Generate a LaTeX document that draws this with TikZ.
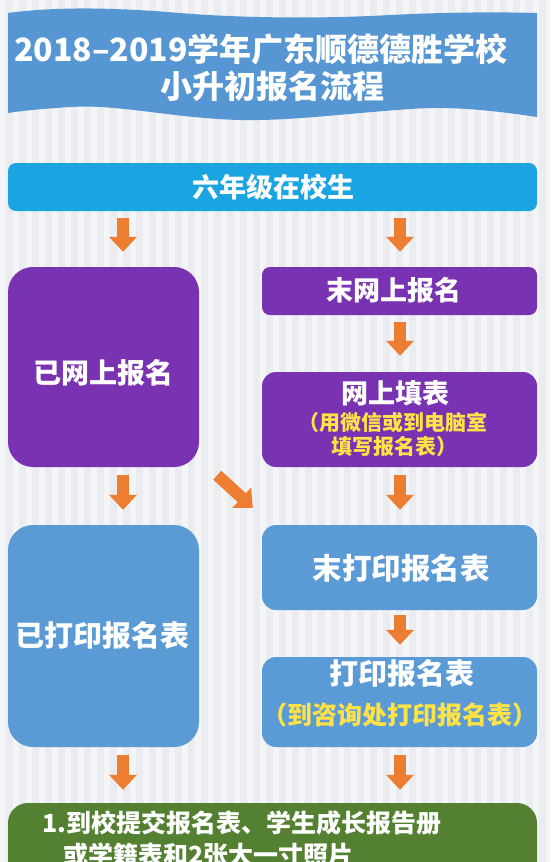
\documentclass[tikz,border=0pt]{standalone}
\usepackage{fontspec}
\setmainfont{Noto Sans CJK SC}[BoldFont={* Black}]
\usetikzlibrary{arrows.meta}
\definecolor{bgc}{RGB}{234,236,240}
\definecolor{bannerc}{RGB}{86,150,210}
\definecolor{cyanc}{RGB}{26,164,226}
\definecolor{purplec}{RGB}{120,50,178}
\definecolor{bluec}{RGB}{90,155,214}
\definecolor{orangec}{RGB}{237,125,49}
\definecolor{greenc}{RGB}{84,128,50}
\definecolor{yellowc}{RGB}{255,226,70}
\newcommand\myfs[1]{\fontsize{#1}{#1}\selectfont}
\begin{document}
\begin{tikzpicture}[x=1pt,y=-1pt,
  boxs/.style={inner sep=0pt, rounded corners=#1},
  txt/.style={inner sep=0pt, text=white, font=\bfseries},
  ytxt/.style={inner sep=0pt, text=yellowc, font=\bfseries},
  barrow/.style={draw=orangec, line width=12pt, -{Triangle[width=27pt,length=15pt]}}]
\useasboundingbox (0,0) rectangle (550,862);
\clip (0,0) rectangle (550,862);
% background
\fill[bgc] (0,0) rectangle (550,862);
\foreach \x in {0,13,...,550} \fill[white,opacity=0.5] (\x,0) rectangle ++(6,862);
% banner
\fill[bannerc] (8,13) .. controls (60,6) and (120,8) .. (180,13)
  .. controls (240,18) and (320,19) .. (390,15)
  .. controls (450,12) and (500,12) .. (537,13)
  -- (537,117)
  .. controls (490,110) and (450,106) .. (410,109)
  .. controls (340,114) and (290,121) .. (240,120)
  .. controls (170,118) and (120,104) .. (70,107)
  .. controls (40,109) and (20,111) .. (8,113) -- cycle;
\node[txt] (t1) at (261,49) {\myfs{32}2018–2019学年广东顺德德胜学校};
\node[txt] (t2) at (272,86) {\myfs{32}小升初报名流程};
% boxes
\node[boxs=8pt, fill=cyanc, minimum width=529pt, minimum height=48pt] (top) at (272.5,187) {};
\node[boxs=25pt, fill=purplec, minimum width=191pt, minimum height=200pt] (lp) at (103.5,367) {};
\node[boxs=8pt, fill=purplec, minimum width=275pt, minimum height=48pt] (rp1) at (399.5,291) {};
\node[boxs=14pt, fill=purplec, minimum width=275pt, minimum height=95pt] (rp2) at (399.5,419.5) {};
\node[boxs=25pt, fill=bluec, minimum width=191pt, minimum height=222pt] (lb) at (103.5,636) {};
\node[boxs=14pt, fill=bluec, minimum width=275pt, minimum height=85pt] (rb1) at (399.5,567.5) {};
\node[boxs=14pt, fill=bluec, minimum width=275pt, minimum height=90pt] (rb2) at (399.5,702) {};
\node[boxs=20pt, fill=greenc, minimum width=529pt, minimum height=102pt] (gr) at (272.5,854) {};
% texts
\node[txt] (toptx) at (273,187) {\myfs{27}六年级在校生};
\node[txt] (lptx) at (103,373) {\myfs{28}已网上报名};
\node[txt] (rp1tx) at (394,290) {\myfs{27}末网上报名};
\node[txt] (rp2tx) at (395,393) {\myfs{27}网上填表};
\node[ytxt] (rp2ya) at (393,422) {\myfs{21}（用微信或到电脑室};
\node[ytxt] (rp2yb) at (394,447) {\myfs{21}填写报名表）};
\node[txt] (lbtx) at (103,635) {\myfs{29}已打印报名表};
\node[txt] (rb1tx) at (401,568) {\myfs{29.5}末打印报名表};
\node[txt] (rb2tx) at (402,673) {\myfs{29}打印报名表};
\node[ytxt] (rb2y) at (400,715) {\myfs{25}（到咨询处打印报名表）};
\node[txt, anchor=west] (gra) at (42,823) {\myfs{25}1.到校提交报名表、学生成长报告册};
\node[txt, anchor=west] (grb) at (63,855) {\myfs{25}或学籍表和2张大一寸照片};
% arrows
\coordinate (lx) at (123,0);
\coordinate (rx) at (400,0);
\draw[barrow] ([yshift=-7pt]top.south -| lx) -- ([yshift=15pt]lp.north -| lx);
\draw[barrow] ([yshift=-7pt]top.south -| rx) -- ([yshift=15pt]rp1.north -| rx);
\draw[barrow] ([yshift=-7pt]rp1.south -| rx) -- ([yshift=16pt]rp2.north -| rx);
\draw[barrow] ([yshift=-8pt]lp.south -| lx) -- ([yshift=15pt]lb.north -| lx);
\draw[barrow] ([yshift=-8pt]rp2.south -| rx) -- ([yshift=15pt]rb1.north -| rx);
\draw[barrow] ([xshift=18pt,yshift=-8pt]lp.south east) -- ([xshift=-9pt,yshift=17pt]rb1.north west);
\draw[barrow] ([yshift=-5pt]rb1.south -| rx) -- ([yshift=12pt]rb2.north -| rx);
\draw[barrow] ([yshift=-8pt]lb.south -| lx) -- ([yshift=13pt]gr.north -| lx);
\draw[barrow] ([yshift=-8pt]rb2.south -| rx) -- ([yshift=13pt]gr.north -| rx);
\end{tikzpicture}
\end{document}
